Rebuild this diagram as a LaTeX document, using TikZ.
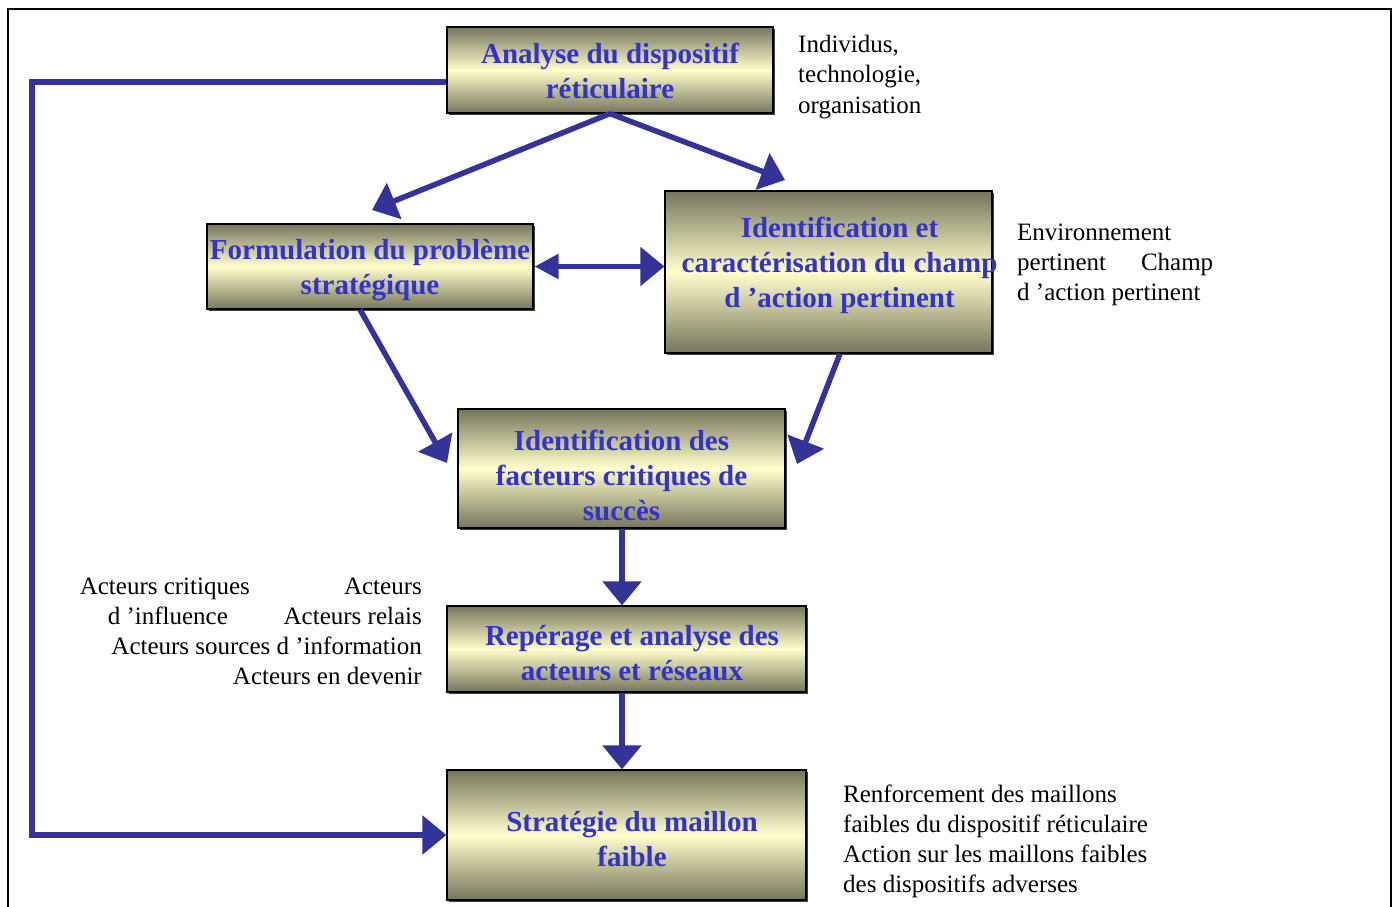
\documentclass[tikz,border=0pt]{standalone}
\usepackage{fontspec}
\setmainfont{Liberation Serif}
\usetikzlibrary{arrows.meta,shadows,calc}
\definecolor{arrowblue}{RGB}{51,51,153}
\definecolor{textblue}{RGB}{51,51,204}
\definecolor{boxdark}{RGB}{118,117,92}
\definecolor{boxlight}{RGB}{255,255,204}
\begin{document}
\begin{tikzpicture}[x=1pt,y=-1pt,
 box/.style={rectangle, draw=black, line width=1.2pt, top color=boxdark, bottom color=boxdark, middle color=boxlight,
   drop shadow={shadow xshift=2pt,shadow yshift=-2pt,fill=black!75,opacity=1}, inner sep=0pt},
 boxtext/.style={text=textblue, font=\fontsize{29}{35}\selectfont\bfseries, align=center, inner sep=0pt},
 side/.style={font=\fontsize{25}{30}\selectfont, inner sep=0pt, anchor=base west},
 arr/.style={draw=arrowblue, line width=5.5pt, -{Triangle[length=24pt,width=38pt]}},
]
\useasboundingbox (0,0) rectangle (1395,907);
\fill[white] (0,0) rectangle (1395,907);
\draw[line width=2pt] (8,9) rectangle (1391,940);

% boxes
\node[box, minimum width=326pt, minimum height=86pt] (A) at (610,70) {};
\node[box, minimum width=326pt, minimum height=85pt] (B) at (370,266.5) {};
\node[box, minimum width=327pt, minimum height=162pt] (C) at (828.5,272) {};
\node[box, minimum width=327pt, minimum height=119pt] (D) at (621.5,468.5) {};
\node[box, minimum width=359pt, minimum height=86pt] (E) at (626.5,649) {};
\node[box, minimum width=359pt, minimum height=130pt] (F) at (626.5,835) {};

\node[boxtext] (At) at ($(A)+(0,0.5)$) {Analyse du dispositif\\réticulaire};
\node[boxtext] (Bt) at ($(B)+(0,4)$) {Formulation du problème\\stratégique};
\node[boxtext] (Ct) at ($(C)+(11,-7)$) {Identification et\\caractérisation du champ\\d ’action pertinent};
\node[boxtext] (Dt) at ($(D)+(0,6.5)$) {Identification des\\facteurs critiques de\\succès};
\node[boxtext] (Et) at ($(E)+(5.5,4.5)$) {Repérage et analyse des\\acteurs et réseaux};
\node[boxtext] (Ft) at ($(F)+(5.5,4.5)$) {Stratégie du maillon\\faible};

% side texts
\node[side] (s1) at (798,53) {\begin{tabular}[t]{@{}l@{}}Individus,\\technologie,\\organisation\end{tabular}};
\node[side] (s2) at (1017,240) {\begin{tabular}[t]{@{}l@{}}Environnement\\\makebox[196pt]{pertinent\hfill Champ}\\d ’action pertinent\end{tabular}};
\node[side, anchor=base east] (s3) at (422,594) {\begin{tabular}[t]{@{}r@{}}\makebox[342pt]{Acteurs critiques\hfill Acteurs}\\\makebox[314pt]{d ’influence\hfill Acteurs relais}\\Acteurs sources d ’information\\Acteurs en devenir\end{tabular}};
\node[side] (s4) at (843,802) {\begin{tabular}[t]{@{}l@{}}Renforcement des maillons\\faibles du dispositif réticulaire\\Action sur les maillons faibles\\des dispositifs adverses\end{tabular}};

% connector end points
\coordinate (tAB) at (372,210);
\coordinate (tAC) at (785,180);
\coordinate (tBD) at (447,463);
\coordinate (tCD) at (797,464);
\coordinate (c1) at (32,82);
\coordinate (c2) at (32,835);

\draw[arr] (A.south) -- (tAB);
\draw[arr] (A.south) -- (tAC);
\draw[draw=arrowblue, line width=5.5pt, {Triangle[length=24pt,width=24pt]}-{Triangle[length=24pt,width=38pt]}] ([xshift=1pt]B.east) -- (C.west |- B.east);
\draw[arr] ([xshift=-10pt]B.south) -- (tBD);
\draw[arr] ([xshift=11.5pt]C.south) -- (tCD);
\draw[arr] ([xshift=0.5pt]D.south) -- ([xshift=0.5pt]D.south |- E.north);
\draw[arr] ([xshift=-4.5pt]E.south) -- ([xshift=-4.5pt]F.north);
\draw[arr, line join=miter] ([yshift=-12pt]A.west) -- (c1) -- (c2) -- (F.west);
\end{tikzpicture}
\end{document}
